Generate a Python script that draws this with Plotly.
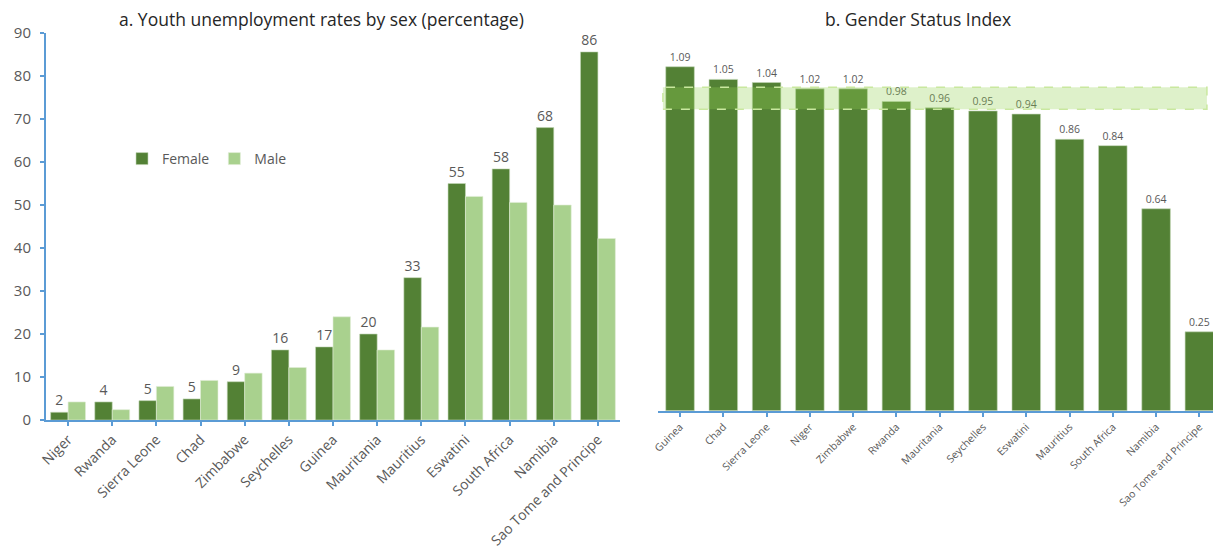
import plotly.graph_objects as go

# Panel a: youth unemployment rates by sex (%)
countries_a = ["Niger", "Rwanda", "Sierra Leone", "Chad", "Zimbabwe", "Seychelles",
               "Guinea", "Mauritania", "Mauritius", "Eswatini", "South Africa",
               "Namibia", "Sao Tome and Principe"]
female = [1.8, 4.2, 4.5, 4.9, 8.9, 16.3, 17.0, 20.0, 33.1, 55.0, 58.4, 68.0, 85.6]
male = [4.2, 2.4, 7.8, 9.2, 10.9, 12.2, 24.0, 16.3, 21.6, 52.0, 50.6, 50.0, 42.2]

# Panel b: Gender Status Index
countries_b = ["Guinea", "Chad", "Sierra Leone", "Niger", "Zimbabwe", "Rwanda",
               "Mauritania", "Seychelles", "Eswatini", "Mauritius", "South Africa",
               "Namibia", "Sao Tome and Principe"]
gsi = [1.09, 1.05, 1.04, 1.02, 1.02, 0.98, 0.96, 0.95, 0.94, 0.86, 0.84, 0.64, 0.25]

# shaded parity band on panel b
band_low, band_high = 0.955, 1.025

FONT = "Open Sans"
GREY = "#595959"
DARK = "#538135"
LIGHT = "#A9D18E"
AXIS = "#5B9BD5"

fig = go.Figure()

fig.add_trace(go.Bar(
    x=countries_a, y=female, name="Female",
    marker=dict(color=DARK, line=dict(color="#C5D9B8", width=0.6)),
    text=female, texttemplate="%{y:.0f}", textposition="outside",
    textfont=dict(size=14, color=GREY), cliponaxis=False,
    xaxis="x", yaxis="y"
))
fig.add_trace(go.Bar(
    x=countries_a, y=male, name="Male",
    marker=dict(color=LIGHT, line=dict(color="#E2EFD9", width=0.6)),
    xaxis="x", yaxis="y"
))
fig.add_trace(go.Bar(
    x=countries_b, y=gsi, name="GSI", showlegend=False,
    marker=dict(color=DARK, line=dict(color="#C5D9B8", width=0.6)),
    text=gsi, texttemplate="%{y:.2f}", textposition="outside",
    textfont=dict(size=10.5, color=GREY), cliponaxis=False,
    width=0.66, xaxis="x2", yaxis="y2"
))

fig.add_shape(
    type="rect", xref="x2 domain", yref="y2",
    x0=0.008, x1=0.975, y0=band_low, y1=band_high,
    fillcolor="rgba(146,208,80,0.3)",
    line=dict(color="#C9E89F", width=1.5, dash="dash"),
    layer="above"
)

axis_common = dict(
    showline=True, linecolor=AXIS, linewidth=2,
    ticks="outside", tickcolor=AXIS, ticklen=4, tickwidth=1.5,
    showgrid=False, zeroline=False,
)

# the page body has an 8px margin, so the figure is 8px smaller than the window
OFF = 8
L, T, B = 46 - OFF, 33 - OFF, 134
W, H = 1221 - OFF, 554 - OFF
PW, PH = W - L, H - T - B


def px_x(x):
    return (x - OFF - L) / PW


def px_y(y):
    return (H - B - (y - OFF)) / PH


fig.update_layout(
    width=W, height=H,
    margin=dict(l=L, r=0, t=T, b=B, pad=0),
    paper_bgcolor="white", plot_bgcolor="white",
    font=dict(family=FONT, color=GREY),
    barmode="group", bargap=0.21, bargroupgap=0,
    xaxis=dict(domain=[0, px_x(620)], tickangle=-45,
               tickfont=dict(size=14, color=GREY), **axis_common),
    yaxis=dict(domain=[0, 1], range=[0, 90], dtick=10,
               ticklabelstandoff=6,
               tickfont=dict(size=15, color=GREY), **axis_common),
    xaxis2=dict(domain=[px_x(658.4), 1], tickangle=-45, anchor="y2",
                tickfont=dict(size=10.5, color=GREY), **axis_common),
    yaxis2=dict(domain=[px_y(410.7), 1], range=[0, 1.197], anchor="x2",
                visible=False),
    legend=dict(orientation="h", x=px_x(122), y=px_y(159), xanchor="left",
                yanchor="middle", font=dict(size=14, color=GREY),
                bgcolor="rgba(0,0,0,0)", itemwidth=30,
                tracegroupgap=0),
    annotations=[
        dict(text="a. Youth unemployment rates by sex (percentage)",
             x=px_x(321), y=px_y(19), xref="paper", yref="paper",
             xanchor="center", yanchor="middle", showarrow=False,
             font=dict(size=17.5, color="#262626")),
        dict(text="b. Gender Status Index",
             x=px_x(918), y=px_y(19), xref="paper", yref="paper",
             xanchor="center", yanchor="middle", showarrow=False,
             font=dict(size=17.5, color="#262626")),
    ],
)

fig.write_html("out.html")
